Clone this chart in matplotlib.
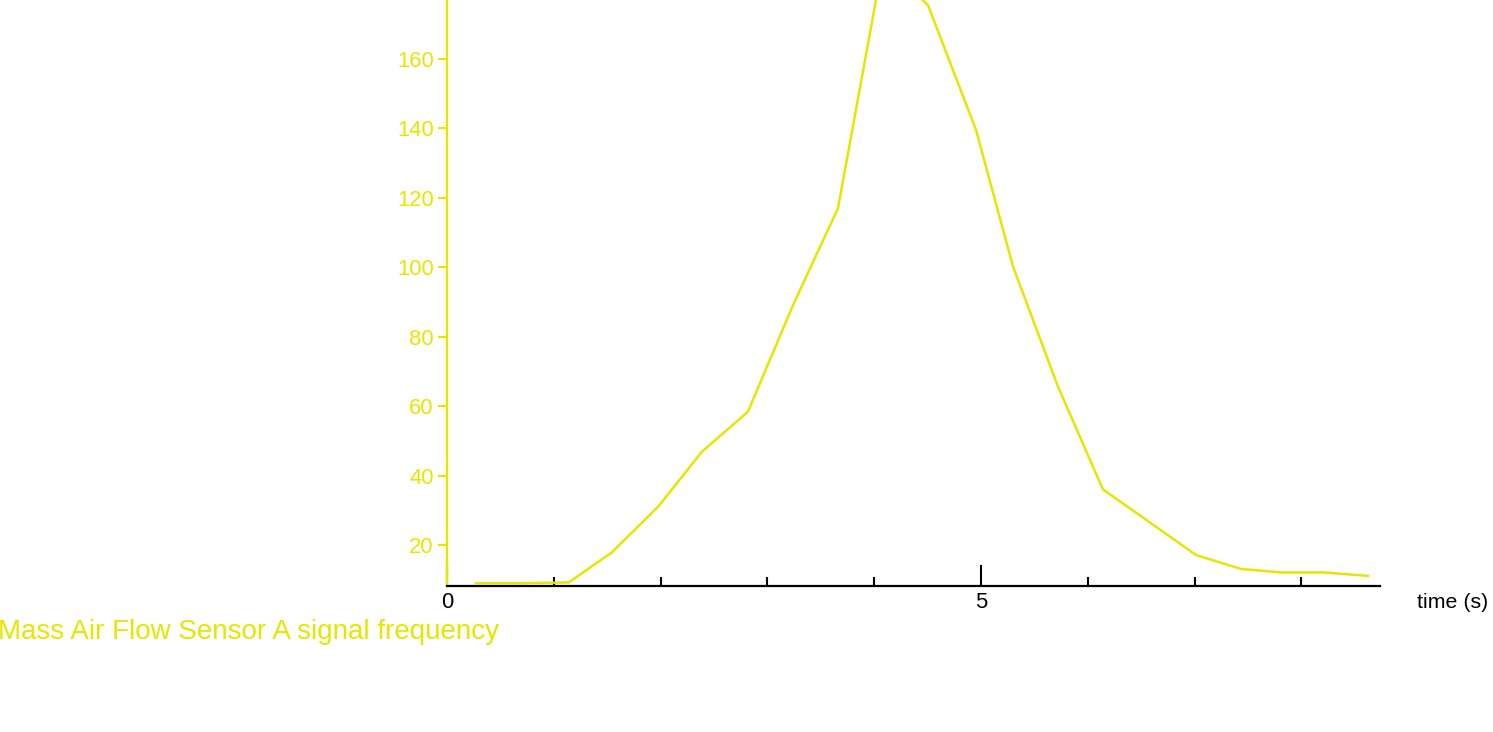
"""
Mass Air Flow Sensor A signal frequency vs time
"""
import matplotlib
matplotlib.use("Agg")
import matplotlib.pyplot as plt
from matplotlib.ticker import FixedLocator, NullFormatter

# ── Data ──────────────────────────────────────────────────────────────────
time_s = [0.27, 0.70, 1.14, 1.545, 1.976, 2.388, 2.818, 3.240, 3.661, 4.082,
          4.504, 4.953, 5.300, 5.721, 6.142, 6.554, 7.013, 7.434, 7.800, 8.202, 8.624]
maf_freq = [9.0, 9.0, 9.2, 17.9, 31.0, 46.9, 58.4, 89.1, 117.0, 188.0,
            175.5, 139.6, 100.2, 65.6, 36.0, 27.1, 17.1, 13.1, 12.1, 12.1, 11.1]

y_ticks = [20, 40, 60, 80, 100, 120, 140, 160]
x_major = [0, 5]
x_minor = [1, 2, 3, 4, 6, 7, 8]

yellow = '#e6e600'
plt.rcParams['font.family'] = ['Liberation Sans', 'DejaVu Sans']

# ── Plot Setup ────────────────────────────────────────────────────────────
fig = plt.figure(figsize=(14.93, 7.32), dpi=100)
ax = fig.add_axes([447 / 1493, 146 / 732, 933 / 1493, 586 / 732])

ax.plot(time_s, maf_freq, color=yellow, linewidth=1.8, solid_joinstyle='miter')

ax.set_xlim(0, 8.736)
ax.set_ylim(8.18, 177.0)

for side in ('top', 'right'):
    ax.spines[side].set_visible(False)
ax.spines['left'].set_color(yellow)
ax.spines['left'].set_linewidth(1.7)
ax.spines['bottom'].set_color('black')
ax.spines['bottom'].set_linewidth(1.6)
ax.spines['bottom'].set_zorder(3)

ax.set_yticks(y_ticks)
ax.tick_params(axis='y', direction='out', length=6.5, width=1.5, pad=3,
               color=yellow, labelcolor=yellow, labelsize=15.8)

ax.xaxis.set_major_locator(FixedLocator(x_major))
ax.xaxis.set_minor_locator(FixedLocator(x_minor))
ax.xaxis.set_minor_formatter(NullFormatter())
ax.tick_params(axis='x', which='major', direction='in', length=15, width=1.5,
               pad=4.5, color='black', labelcolor='black', labelsize=15.8)
ax.tick_params(axis='x', which='minor', direction='in', length=6.5, width=1.5,
               color='black')

# axis titles
fig.text(1417 / 1493, (732 - 608) / 732, 'time (s)', fontsize=15.4,
         color='black', ha='left', va='baseline')
fig.text(-2 / 1493, (732 - 639) / 732, 'Mass Air Flow Sensor A signal frequency',
         fontsize=20, color=yellow, ha='left', va='baseline')

fig.savefig('out.png', dpi=100)
